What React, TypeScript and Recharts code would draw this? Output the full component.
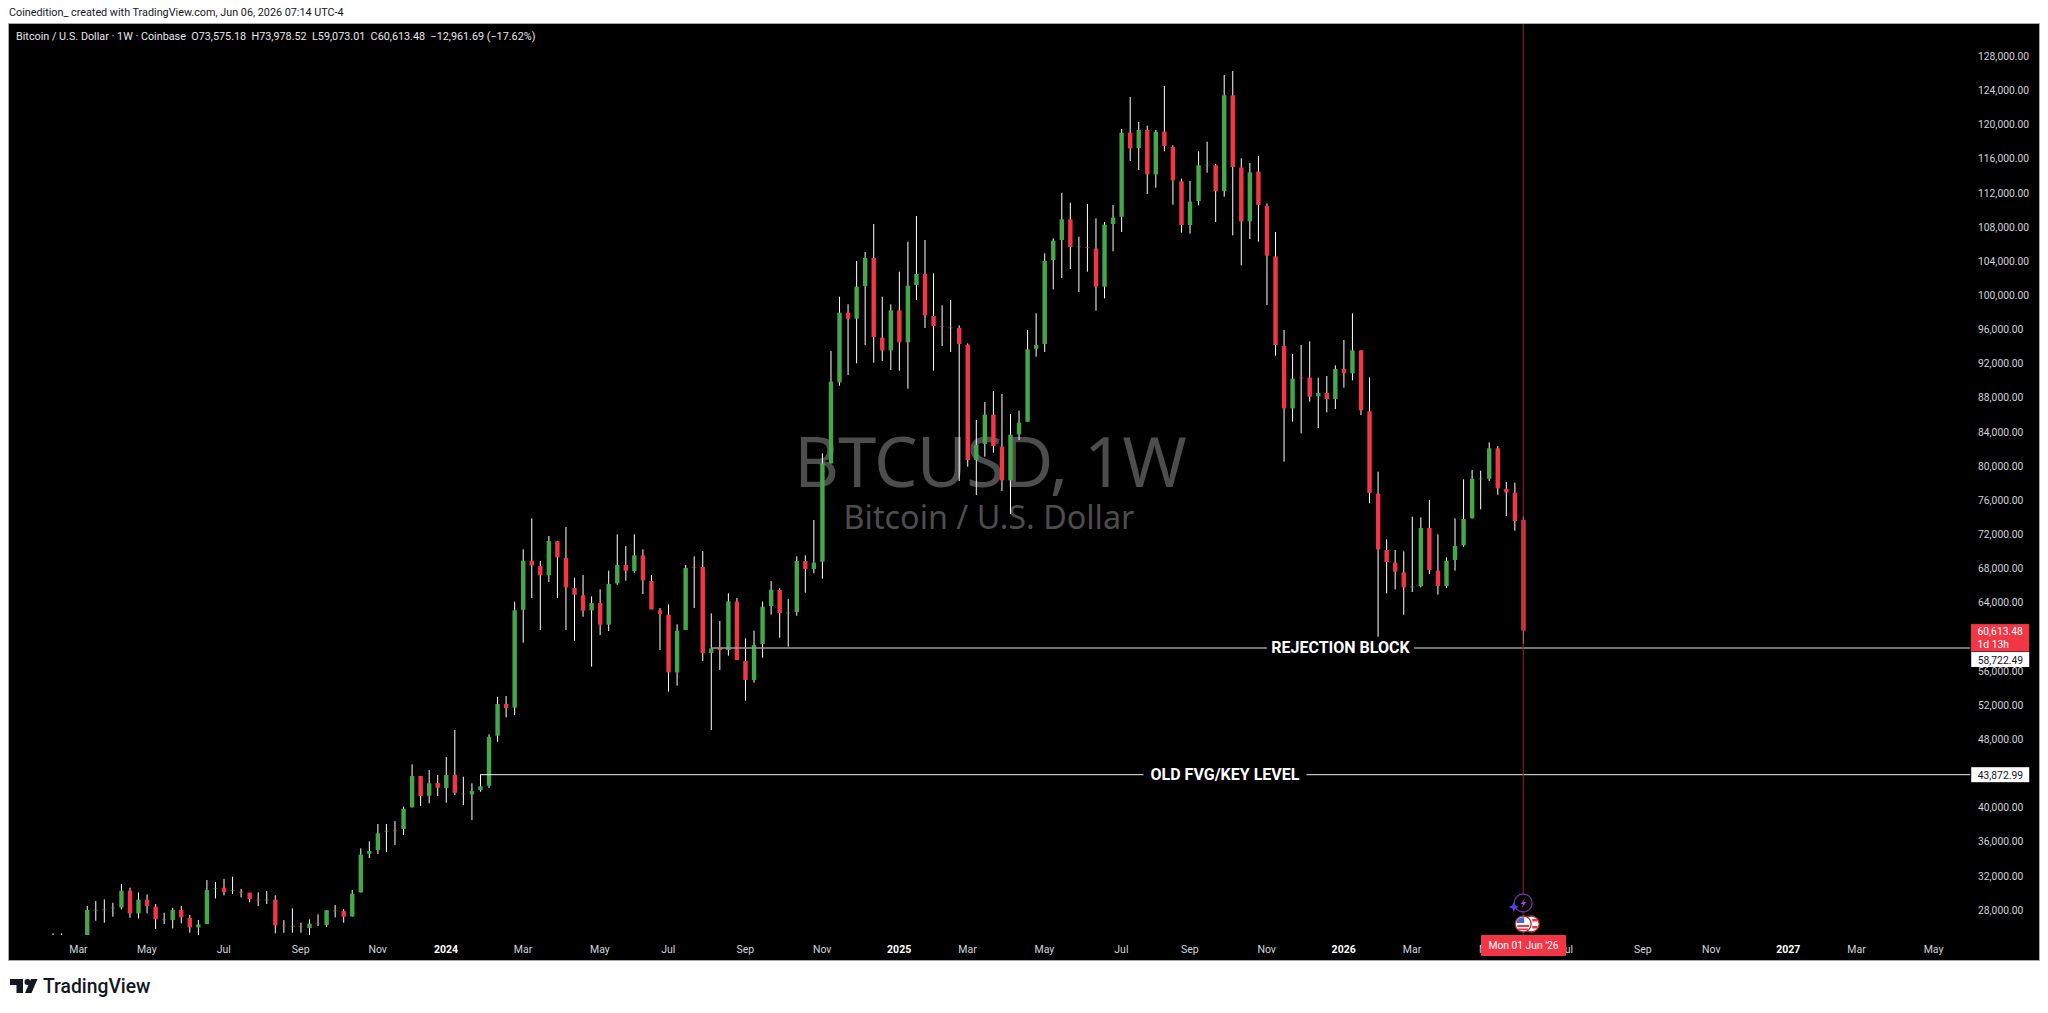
import { Bar, ComposedChart, ReferenceLine, XAxis, YAxis } from 'recharts';

// weekly candles, first one is the week of 13 Feb 2023, ten weeks per row
const opens = [
  21900, 24600, 23200, 23500, 20500, 27880, 27950, 28033, 28189, 30141,
  27486, 29087, 28267, 26783, 26705, 27876, 26939, 25846, 26236, 30337,
  30493, 30200, 30024, 29908, 29126, 28970, 29087, 26080, 26002, 26002,
  25768, 26314, 26119, 27837, 27759, 27134, 29946, 34476, 34905, 36975,
  37248, 37366, 39904, 43575, 41271, 42755, 42169, 43692, 41544, 41427,
  41935, 42442, 48300, 52009, 51580, 63061, 68801, 68176, 67083, 71066,
  69113, 65599, 64740, 62982, 63842, 61303, 66146, 68293, 67590, 69426,
  66419, 62982, 62475, 55719, 60678, 68059, 68059, 57984, 58570, 58335,
  63998, 57047, 54821, 59038, 63490, 65364, 62709, 62787, 68762, 67825,
  68684, 80200, 89690, 97851, 97148, 100975, 104255, 94922, 93438, 98124,
  94376, 101092, 102381, 97461, 96289, 96094, 96055, 94102, 80591, 82465,
  85902, 82153, 78209, 83598, 85082, 93634, 94180, 104021, 106364, 108785,
  105583, 105544, 105349, 100895, 108237, 109096, 118937, 117140, 119249, 114055,
  119054, 117257, 113235, 108120, 110931, 115149, 115110, 112103, 123310, 114836,
  108549, 114368, 110346, 104449, 93947, 86645, 90276, 90237, 88050, 88441,
  87738, 91253, 90745, 93439, 86293, 76648, 70048, 68564, 67432, 65675,
  65831, 72626, 67627, 65831, 68877, 70595, 73758, 78405, 78405, 81959,
  77195, 76765, 73575.18,
];
const highs = [
  25143, 25150, 24000, 24000, 28345, 28931, 29126, 28736, 30922, 30492,
  29946, 29711, 28579, 27564, 28150, 28345, 27291, 26705, 31391, 31157,
  31508, 31781, 30337, 29908, 29946, 30102, 29595, 26705, 28072, 26393,
  26783, 27368, 27876, 28462, 27993, 30219, 35101, 35921, 37951, 37951,
  38303, 39982, 44941, 43575, 44277, 43692, 45801, 48964, 43497, 42716,
  43770, 48456, 52868, 52946, 63998, 70129, 73760, 68762, 71691, 71105,
  72745, 66809, 67122, 64622, 65443, 67629, 71886, 70519, 71886, 70129,
  67122, 63256, 63685, 61342, 68293, 69308, 69933, 62631, 61733, 64974,
  64427, 59702, 60600, 63998, 66419, 65560, 64310, 69308, 69426, 73565,
  81372, 93360, 99725, 98827, 103904, 104958, 108238, 99725, 98827, 102654,
  106169, 109176, 106364, 102459, 98710, 99335, 96367, 94259, 85277, 87386,
  88674, 88323, 85980, 86370, 95821, 97773, 104802, 106559, 111880, 110738,
  106755, 110581, 108902, 108471, 110463, 119366, 123115, 120186, 119757, 119249,
  124404, 117453, 113548, 113274, 116750, 117882, 115266, 125692, 126161, 115930,
  115383, 116203, 110658, 107300, 95822, 93010, 94064, 94494, 90237, 90433,
  91682, 94650, 97774, 93439, 90276, 79225, 71298, 70048, 69892, 73953,
  73875, 75906, 71884, 69189, 73758, 78327, 79420, 79342, 82662, 82232,
  78014, 77936, 73978.52,
];
const lows = [
  21500, 22900, 22700, 19500, 19900, 26627, 26393, 27095, 27953, 26979,
  26900, 27486, 25651, 26236, 25729, 26314, 25221, 24948, 26236, 29243,
  29595, 29750, 29360, 28775, 28345, 28579, 25143, 25221, 25221, 25221,
  24948, 26002, 25885, 27017, 26393, 27095, 29946, 33968, 34437, 34671,
  35491, 36663, 39904, 40060, 40372, 41232, 40451, 41349, 40177, 38420,
  41739, 42169, 47597, 50447, 50721, 59195, 64427, 60678, 66302, 64427,
  60678, 59429, 62240, 56383, 60093, 60561, 65989, 66458, 67395, 64896,
  63100, 58335, 53454, 54157, 60678, 63256, 57047, 48963, 55992, 57671,
  57164, 52400, 54509, 57437, 62475, 59780, 58726, 62357, 65052, 67317,
  66692, 80200, 89299, 90549, 91915, 94063, 91994, 92189, 91134, 91056,
  88948, 99335, 96055, 91056, 93946, 93243, 78131, 79810, 76491, 80981,
  81450, 76959, 74265, 82934, 85082, 92697, 93243, 100585, 101912, 102967,
  100272, 102654, 98085, 99529, 105035, 107300, 115617, 114563, 111751, 112494,
  116750, 110502, 107222, 107105, 110424, 114251, 108471, 111439, 106909, 103395,
  106480, 106167, 98748, 92815, 80397, 85083, 83716, 87426, 84341, 86176,
  86567, 89066, 89925, 85864, 75516, 59895, 64972, 65440, 62473, 65128,
  65675, 67237, 64816, 65597, 67627, 70439, 73758, 74813, 78132, 76531,
  74032, 72313, 59073.01,
];
const closes = [
  24600, 23200, 23500, 20500, 27876, 27920, 27970, 28189, 30141, 27486,
  29087, 28345, 26783, 26800, 27876, 27017, 25846, 26197, 30219, 30454,
  29985, 30219, 29990, 29165, 28970, 29126, 26080, 26060, 26030, 25990,
  26275, 26080, 27837, 27800, 27095, 29789, 34359, 34788, 36858, 37169,
  37200, 39748, 43575, 41232, 42716, 42207, 43692, 41622, 41388, 41817,
  42364, 48144, 52009, 51541, 62982, 68801, 68254, 67083, 71105, 69191,
  65677, 64818, 62943, 63842, 61303, 66067, 68293, 67629, 69426, 66497,
  63100, 62553, 55719, 60600, 67942, 68020, 57984, 58531, 58335, 64037,
  57164, 54821, 58921, 63412, 65404, 62670, 62740, 68762, 67825, 68567,
  80200, 89768, 97851, 97148, 100897, 104255, 95000, 93438, 98124, 94376,
  101014, 102381, 97539, 96289, 96055, 96130, 94180, 80591, 82348, 85902,
  82231, 78209, 83559, 84965, 93556, 94063, 103904, 106286, 108785, 105544,
  105620, 105427, 100897, 108159, 108979, 118937, 117101, 119249, 114055, 119054,
  117375, 113352, 108120, 110853, 115110, 115190, 112103, 123310, 114914, 108549,
  114290, 110463, 104527, 94062, 86645, 90120, 90230, 88011, 88441, 87738,
  91253, 90745, 93439, 86410, 76726, 70127, 68643, 67510, 65675, 65792,
  72626, 67706, 65831, 68799, 70517, 73680, 78405, 78450, 81959, 77273,
  76804, 73445, 60613.48,
];

const priceTicks = [
  28000, 32000, 36000, 40000, 48000, 52000, 56000, 64000, 68000, 72000, 76000, 80000, 84000, 88000,
  92000, 96000, 100000, 104000, 108000, 112000, 116000, 120000, 124000, 128000,
];
const tickDates = [
  '2023-03-06', '2023-05-01', '2023-07-03', '2023-09-04', '2023-11-06', '2024-01-01', '2024-03-04', '2024-05-06',
  '2024-07-01', '2024-09-02', '2024-11-04', '2025-01-06', '2025-03-03', '2025-05-05', '2025-07-07', '2025-09-01',
  '2025-11-03', '2026-01-05', '2026-03-02', '2026-05-04', '2026-07-06', '2026-09-07', '2026-11-02', '2027-01-04',
  '2027-03-01', '2027-05-03',
];
const tickLabels = [
  'Mar', 'May', 'Jul', 'Sep', 'Nov', '2024', 'Mar', 'May', 'Jul', 'Sep', 'Nov', '2025', 'Mar', 'May', 'Jul', 'Sep',
  'Nov', '2026', 'Mar', 'May', 'Jul', 'Sep', 'Nov', '2027', 'Mar', 'May',
];

const rejectionLevel = 58722.49;
const oldFvgLevel = 43872.99;
const lastPrice = 60613.48;
const rejectionStart = '2024-08-05';
const oldFvgStart = '2024-01-29';
const lastBar = '2026-06-01';
const axisEnd = '2027-05-31';

const bg = '#000000';
const up = '#46a64a';
const down = '#f23645';
const tickColor = '#d1d4dc';
const fontFamily = 'Roboto, sans-serif';
const levelNudge = 1.2;

// the time axis runs on weekly slots, from before the first candle to the empty space on the right
const WEEK = 7 * 24 * 3600 * 1000;
const firstSlot = Date.UTC(2023, 0, 16);
const firstCandle = Date.UTC(2023, 1, 13);
const slotCount = 229;

const data = Array.from({ length: slotCount }, (_, k) => {
  const t = firstSlot + k * WEEK;
  const i = Math.round((t - firstCandle) / WEEK);
  const row: any = { date: new Date(t).toISOString().slice(0, 10) };
  if (i >= 0 && i < opens.length) {
    row.open = opens[i];
    row.close = closes[i];
    row.range = [lows[i], highs[i]];
  }
  return row;
});

function Candle(props: any) {
  const { x, y, width, height, payload } = props;
  if (!payload || !payload.range) return null;
  const [low, high] = payload.range;
  const toY = (v: number) => y + (height * (high - v)) / (high - low);
  const cx = x + width / 2;
  const top = toY(Math.max(payload.open, payload.close));
  const bottom = toY(Math.min(payload.open, payload.close));
  const bodyH = bottom - top;
  const color = payload.close >= payload.open ? up : down;
  return (
    <g>
      <line x1={cx} x2={cx} y1={y} y2={y + height} stroke="#ffffff" strokeWidth={1} />
      {bodyH < 2 ? (
        <rect x={cx - 2.2} y={top} width={4.4} height={1} fill={color} opacity={0.55} />
      ) : (
        <rect x={cx - 2.2} y={top} width={4.4} height={bodyH} fill={color} />
      )}
    </g>
  );
}

function TimeTick(props: any) {
  const { x, y, payload } = props;
  const label = tickLabels[tickDates.indexOf(payload.value)];
  const isYear = label.length === 4;
  return (
    <text
      x={x}
      y={y + 10}
      textAnchor="middle"
      fill={isYear ? '#ffffff' : tickColor}
      fontFamily={fontFamily}
      fontSize={10.5}
      fontWeight={isYear ? 700 : 400}
    >
      {label}
    </text>
  );
}

function levelShape(props: any, color: string, width: number) {
  return (
    <line
      x1={props.x1}
      y1={props.y1 + levelNudge}
      x2={props.x2 + 2.5}
      y2={props.y2 + levelNudge}
      stroke={color}
      strokeWidth={width}
    />
  );
}

function LevelLabel(props: any) {
  const { viewBox, text, boxWidth, price, tagShift } = props;
  if (!viewBox) return null;
  const cy = viewBox.y + levelNudge;
  const cx = viewBox.x + viewBox.width / 2 + 1;
  const tagX = viewBox.x + viewBox.width + 3.5;
  const tagY = cy + tagShift;
  return (
    <g>
      <rect x={cx - boxWidth / 2} y={cy - 9} width={boxWidth} height={18} fill={bg} />
      <text
        x={cx}
        y={cy + 5.5}
        textAnchor="middle"
        fill="#ffffff"
        fontFamily={fontFamily}
        fontWeight={700}
        fontSize={16}
      >
        {text}
      </text>
      <rect x={tagX} y={tagY - 7.5} width={58} height={15} fill="#ffffff" />
      <text x={tagX + 6.5} y={tagY + 4} fill="#131722" fontFamily={fontFamily} fontSize={10.3}>
        {price}
      </text>
    </g>
  );
}

function LastPriceTag(props: any) {
  const { viewBox } = props;
  if (!viewBox) return null;
  const tagX = viewBox.x + viewBox.width - 1;
  const top = viewBox.y - 6.5;
  return (
    <g fontFamily={fontFamily} fontSize={10.3} fill="#ffffff">
      <rect x={tagX} y={top} width={58} height={27.5} fill={down} />
      <text x={tagX + 6.5} y={top + 11}>
        {lastPrice.toLocaleString('en-US', { minimumFractionDigits: 2 })}
      </text>
      <text x={tagX + 6.5} y={top + 23.5}>
        1d 13h
      </text>
    </g>
  );
}

function LastBarMarks(props: any) {
  const { viewBox } = props;
  if (!viewBox) return null;
  const x = viewBox.x;
  const bottom = viewBox.y + viewBox.height;
  const flagY = bottom - 11;
  const boltY = bottom - 32;
  return (
    <g>
      <circle cx={x} cy={boltY} r={9} fill={bg} stroke="#7a2ea8" strokeWidth={1.3} />
      <path
        d={`M${x + 2.5} ${boltY - 6} L${x - 2.5} ${boltY + 1} L${x} ${boltY + 1} L${x - 2} ${boltY + 6} L${x + 3} ${boltY - 1} L${x} ${boltY - 1} Z`}
        fill="#9c3fd0"
      />
      <path
        d={`M${x - 9.5} ${boltY - 1} l1.5 3.5 l3.5 1.5 l-3.5 1.5 l-1.5 3.5 l-1.5 -3.5 l-3.5 -1.5 l3.5 -1.5 Z`}
        fill="#5b3fe0"
      />
      <circle cx={x + 8} cy={flagY} r={8} fill="#ffffff" stroke="#a82a33" strokeWidth={1.3} />
      <rect x={x + 9} y={flagY - 5} width={5.5} height={2.5} fill={down} />
      <rect x={x + 9} y={flagY + 2} width={5.5} height={2.5} fill={down} />
      <circle cx={x} cy={flagY} r={8} fill="#ffffff" stroke="#a82a33" strokeWidth={1.3} />
      <rect x={x - 6} y={flagY + 1} width={12} height={2} fill={down} />
      <rect x={x - 5} y={flagY + 4.5} width={10} height={1.6} fill={down} />
      <path d={`M${x - 6.5} ${flagY - 1} V${flagY - 3} Q${x - 5} ${flagY - 6.5} ${x + 1} ${flagY - 7} V${flagY - 1} Z`} fill="#3b6fd8" />
    </g>
  );
}

export default function App() {
  return (
    <div style={{ position: 'absolute', left: 0, top: 0, width: 2048, height: 1013, background: '#fff', overflow: 'hidden' }}>
      <div style={{ position: 'absolute', left: 9, top: 6, fontFamily, fontSize: 10.8, color: '#131722', whiteSpace: 'nowrap' }}>
        Coinedition_ created with TradingView.com, Jun 06, 2026 07:14 UTC-4
      </div>
      <div style={{ position: 'absolute', left: 9, top: 24, width: 2030, height: 936, background: bg, outline: '1px solid #a8a8a8' }} />
      <div style={{ position: 'absolute', left: 0, width: 1980, top: 425, textAlign: 'center', fontFamily: "'Noto Sans', sans-serif", fontSize: 69, letterSpacing: -1, lineHeight: '70px', color: '#4d4d4d', whiteSpace: 'nowrap' }}>
        BTCUSD, 1W
      </div>
      <div style={{ position: 'absolute', left: 0, width: 1978, top: 496, textAlign: 'center', fontFamily: "'Noto Sans', sans-serif", fontSize: 32.3, lineHeight: '40px', color: '#4d4d4d', whiteSpace: 'nowrap' }}>
        Bitcoin / U.S. Dollar
      </div>
      <div style={{ position: 'absolute', left: 16, top: 30, fontFamily, fontSize: 10.8, color: '#e8e8e8', whiteSpace: 'pre' }}>
        {'Bitcoin / U.S. Dollar · 1W · Coinbase  O73,575.18  H73,978.52  L59,073.01  C60,613.48  −12,961.69 (−17.62%)'}
      </div>
      <div style={{ position: 'absolute', left: 9, top: 24 }}>
        <ComposedChart
          width={2030}
          height={936}
          data={data}
          margin={{ top: 0, right: 0, left: 5.34, bottom: 0 }}
          barCategoryGap={0}
        >
          <XAxis
            dataKey="date"
            ticks={tickDates}
            interval={0}
            height={25}
            axisLine={false}
            tickLine={false}
            tick={<TimeTick />}
          />
          <YAxis
            orientation="right"
            width={67}
            domain={[24955, 131666]}
            allowDataOverflow
            ticks={priceTicks}
            interval={0}
            axisLine={false}
            tickLine={false}
            tickSize={0}
            tickMargin={6}
            dy={1}
            tick={{ fill: tickColor, fontSize: 10.3, fontFamily }}
            tickFormatter={(v: number) => v.toLocaleString('en-US', { minimumFractionDigits: 2 })}
          />
          <ReferenceLine
            segment={[
              { x: rejectionStart, y: rejectionLevel },
              { x: axisEnd, y: rejectionLevel },
            ]}
            shape={(p: any) => levelShape(p, '#9a9a9a', 1.5)}
            ifOverflow="visible"
          />
          <ReferenceLine
            segment={[
              { x: oldFvgStart, y: oldFvgLevel },
              { x: axisEnd, y: oldFvgLevel },
            ]}
            shape={(p: any) => levelShape(p, '#f0f0f0', 1)}
            ifOverflow="visible"
          />
          <ReferenceLine x={lastBar} stroke="#8b2c36" strokeWidth={1} label={<LastBarMarks />} />
          <Bar dataKey="range" shape={<Candle />} isAnimationActive={false} />
          <ReferenceLine y={lastPrice} stroke="none" label={<LastPriceTag />} />
          <ReferenceLine
            segment={[
              { x: rejectionStart, y: rejectionLevel },
              { x: axisEnd, y: rejectionLevel },
            ]}
            stroke="none"
            ifOverflow="visible"
            label={<LevelLabel text="REJECTION BLOCK" boxWidth={147} price="58,722.49" tagShift={11.6} />}
          />
          <ReferenceLine
            segment={[
              { x: oldFvgStart, y: oldFvgLevel },
              { x: axisEnd, y: oldFvgLevel },
            ]}
            stroke="none"
            ifOverflow="visible"
            label={<LevelLabel text="OLD FVG/KEY LEVEL" boxWidth={163} price="43,872.99" tagShift={0} />}
          />
        </ComposedChart>
      </div>
      {/* crosshair date tag sits over the time axis labels */}
      <div style={{ position: 'absolute', left: 1481, top: 935, width: 85, height: 21, lineHeight: '21px', background: down, borderRadius: 1, color: '#fff', fontFamily, fontSize: 10.3, textAlign: 'center' }}>
        Mon 01 Jun '26
      </div>
      <svg style={{ position: 'absolute', left: 10, top: 978 }} width={28} height={16}>
        <path d="M0 1 H13 V15 H6.5 V7 H0 Z M21 1 H27.5 L21.5 15 H15 Z" fill="#131722" />
        <circle cx={17.5} cy={4} r={3} fill="#131722" />
      </svg>
      <div style={{ position: 'absolute', left: 43, top: 975, fontFamily, fontWeight: 500, fontSize: 19.3, lineHeight: '24px', color: '#131722' }}>
        TradingView
      </div>
    </div>
  );
}
